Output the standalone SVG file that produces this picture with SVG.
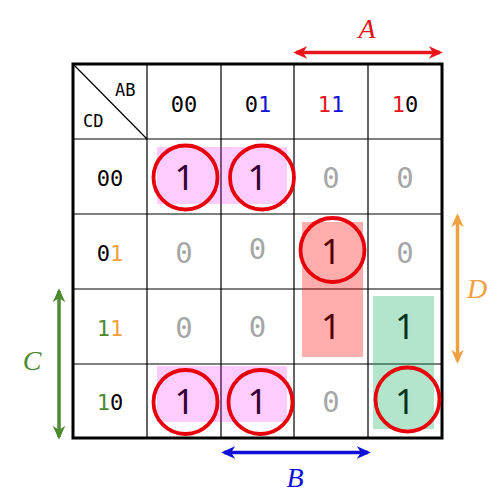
<svg xmlns="http://www.w3.org/2000/svg" width="499" height="501" viewBox="0 0 499 501">
<defs>
<style>
.hd{font-family:"DejaVu Sans Mono",monospace;font-size:22px;text-anchor:middle;fill:#000}
.ab{font-family:"DejaVu Sans Mono",monospace;font-size:17px;fill:#000}
.one{font-family:"Noto Sans",sans-serif;font-size:35px;text-anchor:middle;fill:#000}
.zero{font-family:"DejaVu Sans Mono",monospace;font-size:29px;text-anchor:middle;fill:#a6a6a6}
.lbl{font-family:"Liberation Serif",serif;font-style:italic;font-size:28px;text-anchor:middle}
.thin{stroke:#000;stroke-width:1.2;fill:none}
.ring{fill:none;stroke:#e8000b;stroke-width:3.8}
.red{fill:#e8141a}.blue{fill:#1010d8}.orange{fill:#f0a040}.green{fill:#4e8a30}
</style>
<marker id="mr" viewBox="0 0 10 10" refX="8" refY="5" markerWidth="4" markerHeight="4" orient="auto-start-reverse"><path d="M0,0.5 L10,5 L0,9.5 L3,5 Z" fill="#e8141a"/></marker>
<marker id="mb" viewBox="0 0 10 10" refX="8" refY="5" markerWidth="4" markerHeight="4" orient="auto-start-reverse"><path d="M0,0.5 L10,5 L0,9.5 L3,5 Z" fill="#1010d8"/></marker>
<marker id="mo" viewBox="0 0 10 10" refX="8" refY="5" markerWidth="4" markerHeight="4" orient="auto-start-reverse"><path d="M0,0.5 L10,5 L0,9.5 L3,5 Z" fill="#f0a040"/></marker>
<marker id="mg" viewBox="0 0 10 10" refX="8" refY="5" markerWidth="4" markerHeight="4" orient="auto-start-reverse"><path d="M0,0.5 L10,5 L0,9.5 L3,5 Z" fill="#4e8a30"/></marker>
</defs>
<rect width="499" height="501" fill="#fff"/>
<g id="grid">
<path class="thin" d="M147,64V438M221,64V438M294,64V438M368,64V438M73,139H442M73,214H442M73,289H442M73,364H442M73,64L147,139"/>
<rect x="73" y="64" width="369" height="374" fill="none" stroke="#000" stroke-width="3"/>
</g>
<g id="corner">
<text class="ab" x="115" y="96">AB</text>
<text class="ab" x="83" y="127">CD</text>
</g>
<g id="col-headers">
<text class="hd" x="184" y="112">00</text>
<text class="hd" x="258" y="112">0<tspan class="blue">1</tspan></text>
<text class="hd" x="331" y="112"><tspan class="red">1</tspan><tspan class="blue">1</tspan></text>
<text class="hd" x="405" y="112"><tspan class="red">1</tspan>0</text>
</g>
<g id="row-headers">
<text class="hd" x="110" y="186">00</text>
<text class="hd" x="110" y="261">0<tspan class="orange">1</tspan></text>
<text class="hd" x="110" y="336"><tspan class="green">1</tspan><tspan class="orange">1</tspan></text>
<text class="hd" x="110" y="410"><tspan class="green">1</tspan>0</text>
</g>
<g id="cells">
<text class="one" x="184.5" y="190">1</text>
<text class="one" x="257.5" y="190">1</text>
<text class="zero" x="331" y="188">0</text>
<text class="zero" x="405" y="188">0</text>
<text class="zero" x="184" y="263">0</text>
<text class="zero" x="257.5" y="259">0</text>
<text class="one" x="331" y="264">1</text>
<text class="zero" x="405" y="263">0</text>
<text class="zero" x="184" y="338">0</text>
<text class="zero" x="257.5" y="337">0</text>
<text class="one" x="331" y="339">1</text>
<text class="one" x="405" y="339">1</text>
<text class="one" x="184.5" y="414">1</text>
<text class="one" x="257.5" y="414">1</text>
<text class="zero" x="331" y="412">0</text>
<text class="one" x="405" y="414">1</text>
</g>
<g id="groups">
<rect x="157" y="147" width="130" height="57" fill="#ff00ff" fill-opacity="0.2"/>
<rect x="157" y="366" width="130" height="56" fill="#ff00ff" fill-opacity="0.2"/>
<rect x="302" y="222" width="61" height="135" fill="#ff0000" fill-opacity="0.32"/>
<rect x="373" y="296" width="61" height="133" fill="#00aa55" fill-opacity="0.3"/>
</g>
<g id="circles">
<circle class="ring" cx="185.5" cy="177.5" r="32"/>
<circle class="ring" cx="262" cy="177.5" r="32"/>
<circle class="ring" cx="332.5" cy="250" r="32"/>
<circle class="ring" cx="185.5" cy="402" r="32"/>
<circle class="ring" cx="260.5" cy="402" r="32"/>
<circle class="ring" cx="407.5" cy="399.5" r="32"/>
</g>
<g id="connectors">
<line x1="296" y1="52.5" x2="440" y2="52.5" stroke="#e8141a" stroke-width="3.5" marker-start="url(#mr)" marker-end="url(#mr)"/>
<line x1="457.5" y1="216" x2="457.5" y2="361" stroke="#f0a040" stroke-width="3.5" marker-start="url(#mo)" marker-end="url(#mo)"/>
<line x1="59" y1="291" x2="59" y2="437" stroke="#4e8a30" stroke-width="3.5" marker-start="url(#mg)" marker-end="url(#mg)"/>
<line x1="224" y1="452.5" x2="368" y2="452.5" stroke="#1010d8" stroke-width="3.5" marker-start="url(#mb)" marker-end="url(#mb)"/>
</g>
<g id="labels">
<text class="lbl red" x="367" y="38">A</text>
<text class="lbl orange" x="477" y="298">D</text>
<text class="lbl green" x="32" y="370">C</text>
<text class="lbl blue" x="295" y="487">B</text>
</g>
</svg>
